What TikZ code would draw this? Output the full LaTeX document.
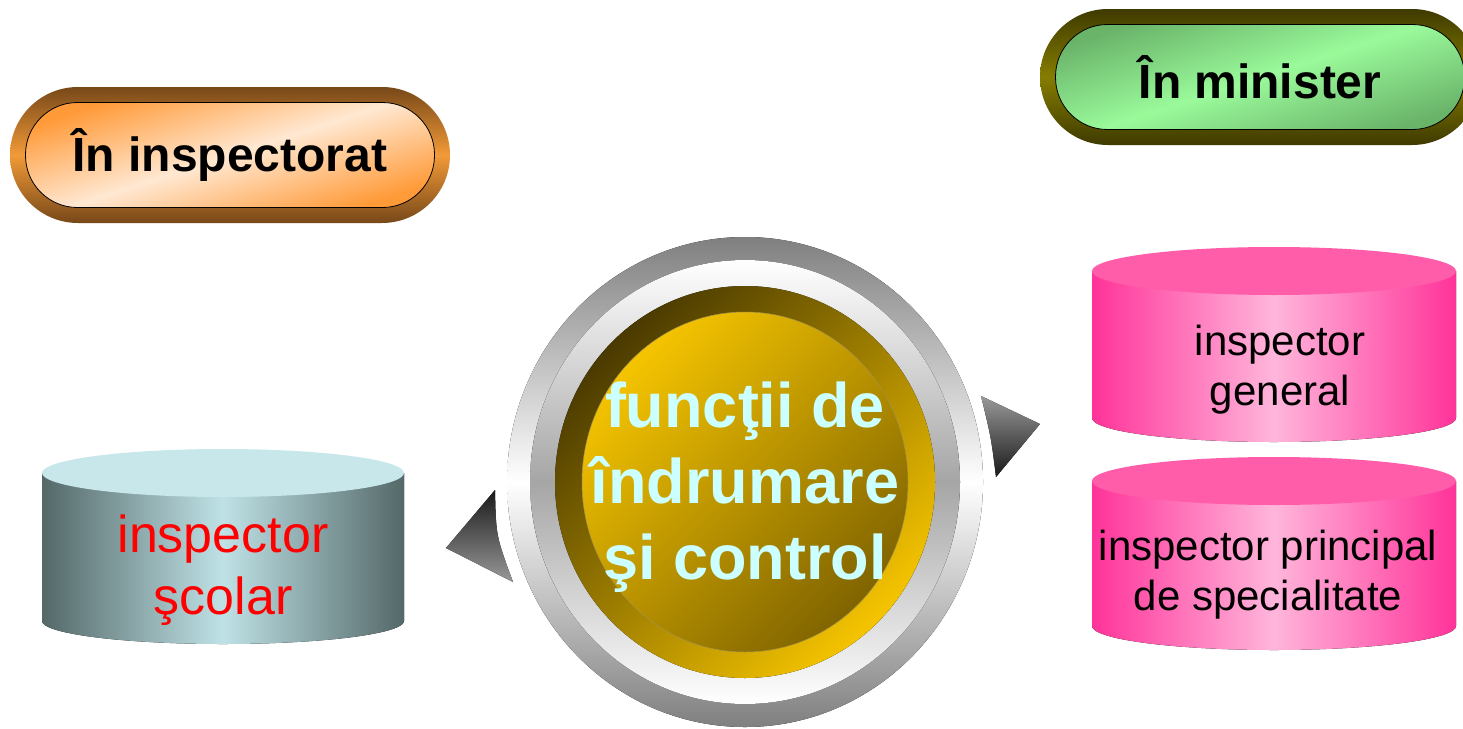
\documentclass[tikz,border=0pt]{standalone}
\usepackage{fontspec}
\setmainfont{Liberation Sans}
\usepackage{tikz}
\usetikzlibrary{shapes.geometric}
\usepackage{color}
\definecolor{brownrim}{HTML}{774818}
\definecolor{orangerim}{HTML}{F29A38}
\definecolor{orangepill}{HTML}{FF9A38}
\definecolor{peachpill}{HTML}{FFE8D2}
\definecolor{olivedark}{HTML}{3F3A00}
\definecolor{olivelight}{HTML}{857D00}
\definecolor{greenpill}{HTML}{9AFA9A}
\definecolor{greendark}{HTML}{6AB46A}
\definecolor{slateedge}{HTML}{546868}
\definecolor{slatelight}{HTML}{BFE2E6}
\definecolor{slatelid}{HTML}{C8E7EA}
\definecolor{pinkedge}{HTML}{FF3399}
\definecolor{pinklight}{HTML}{FFB6DB}
\definecolor{pinklid}{HTML}{FF5CAA}
\definecolor{golddark}{HTML}{4A3A00}
\definecolor{goldbright}{HTML}{F5C400}
\definecolor{golddeep}{HTML}{806400}
\definecolor{cyantext}{HTML}{CCFFFF}
\tikzstyle{rim} = [rectangle,
rounded corners=68pt,
minimum width=440pt,
minimum height=136pt]
\tikzstyle{pill} = [rectangle,
rounded corners=52pt,
minimum width=409pt,
minimum height=105pt,
draw=black,
line width=0.8pt,
font=\fontsize{48}{58}\selectfont\bfseries]
\tikzstyle{drumtext} = [align=center,
font=\fontsize{42}{50}\selectfont]
\tikzstyle{hubtext} = [align=center,
text=cyantext,
font=\fontsize{63}{76}\selectfont\bfseries]

\begin{document}
\begin{tikzpicture}[x=1pt, y=-1pt]
\tikzstyle{every node}=[inner sep=0pt]
\clip (0,0) rectangle (1463,728);
\fill[white] (0,0) rectangle (1463,728);

% the two headings
\node (inrim) [rim, top color=brownrim, bottom color=brownrim, middle color=orangerim] at (230,155) {};
\node (inspectorat) [pill, top color=orangepill, bottom color=orangepill, middle color=peachpill, shading angle=18] at (inrim.center) {În inspectorat};
\node (minrim) [rim, top color=olivedark, bottom color=olivedark, middle color=olivelight] at (1260,77) {};
\node (minister) [pill, top color=greendark, bottom color=greendark, middle color=greenpill, shading angle=18] at (minrim.center) {În minister};

% drums
\fill[left color=slateedge, right color=slateedge, middle color=slatelight] (42,473) -- (42,621) arc (180:0:181 and 23) -- (404,473) -- cycle;
\fill[slatelid] (223,473) ellipse (181 and 24);
\node (scolar) [drumtext, text=red, font=\fontsize{52}{62}\selectfont] at (223,570) {inspector\\şcolar};

\fill[left color=pinkedge, right color=pinkedge, middle color=pinklight] (1092,271) -- (1092,418) arc (180:0:182 and 24) -- (1456,271) -- cycle;
\fill[pinklid] (1274,271) ellipse (182 and 24);
\node (general) [drumtext] at (1280,370) {inspector\\general};

\fill[left color=pinkedge, right color=pinkedge, middle color=pinklight] (1092,481) -- (1092,626) arc (180:0:182 and 24) -- (1456,481) -- cycle;
\fill[pinklid] (1274,481) ellipse (182 and 24);
\node (principal) [drumtext] at (1268,575) {inspector principal\\de specialitate};

% the hub
\coordinate (hub) at (745,482);
\fill[top color=gray, bottom color=gray, middle color=white] (hub) ellipse (238 and 245);
\fill[top color=white, bottom color=white, middle color=gray!70] (hub) ellipse (215 and 222);
\fill[top color=golddark, bottom color=goldbright, shading angle=45] (hub) ellipse (190 and 196);
\draw[golddeep!70, line width=0.5pt, top color=goldbright, bottom color=golddeep, shading angle=45] (hub) ellipse (163 and 170);
\node (duties) [hubtext] at (745,487) {funcţii de\\îndrumare\\şi control};

\fill[top color=black!90, bottom color=gray!80] (495,490) -- (446,548) -- (513,582) .. controls (496,536) .. (495,490);
\fill[top color=gray!80, bottom color=black!90] (981,396) -- (1040,424) -- (996,477) .. controls (991,437) .. (981,396);
\end{tikzpicture}
\end{document}
